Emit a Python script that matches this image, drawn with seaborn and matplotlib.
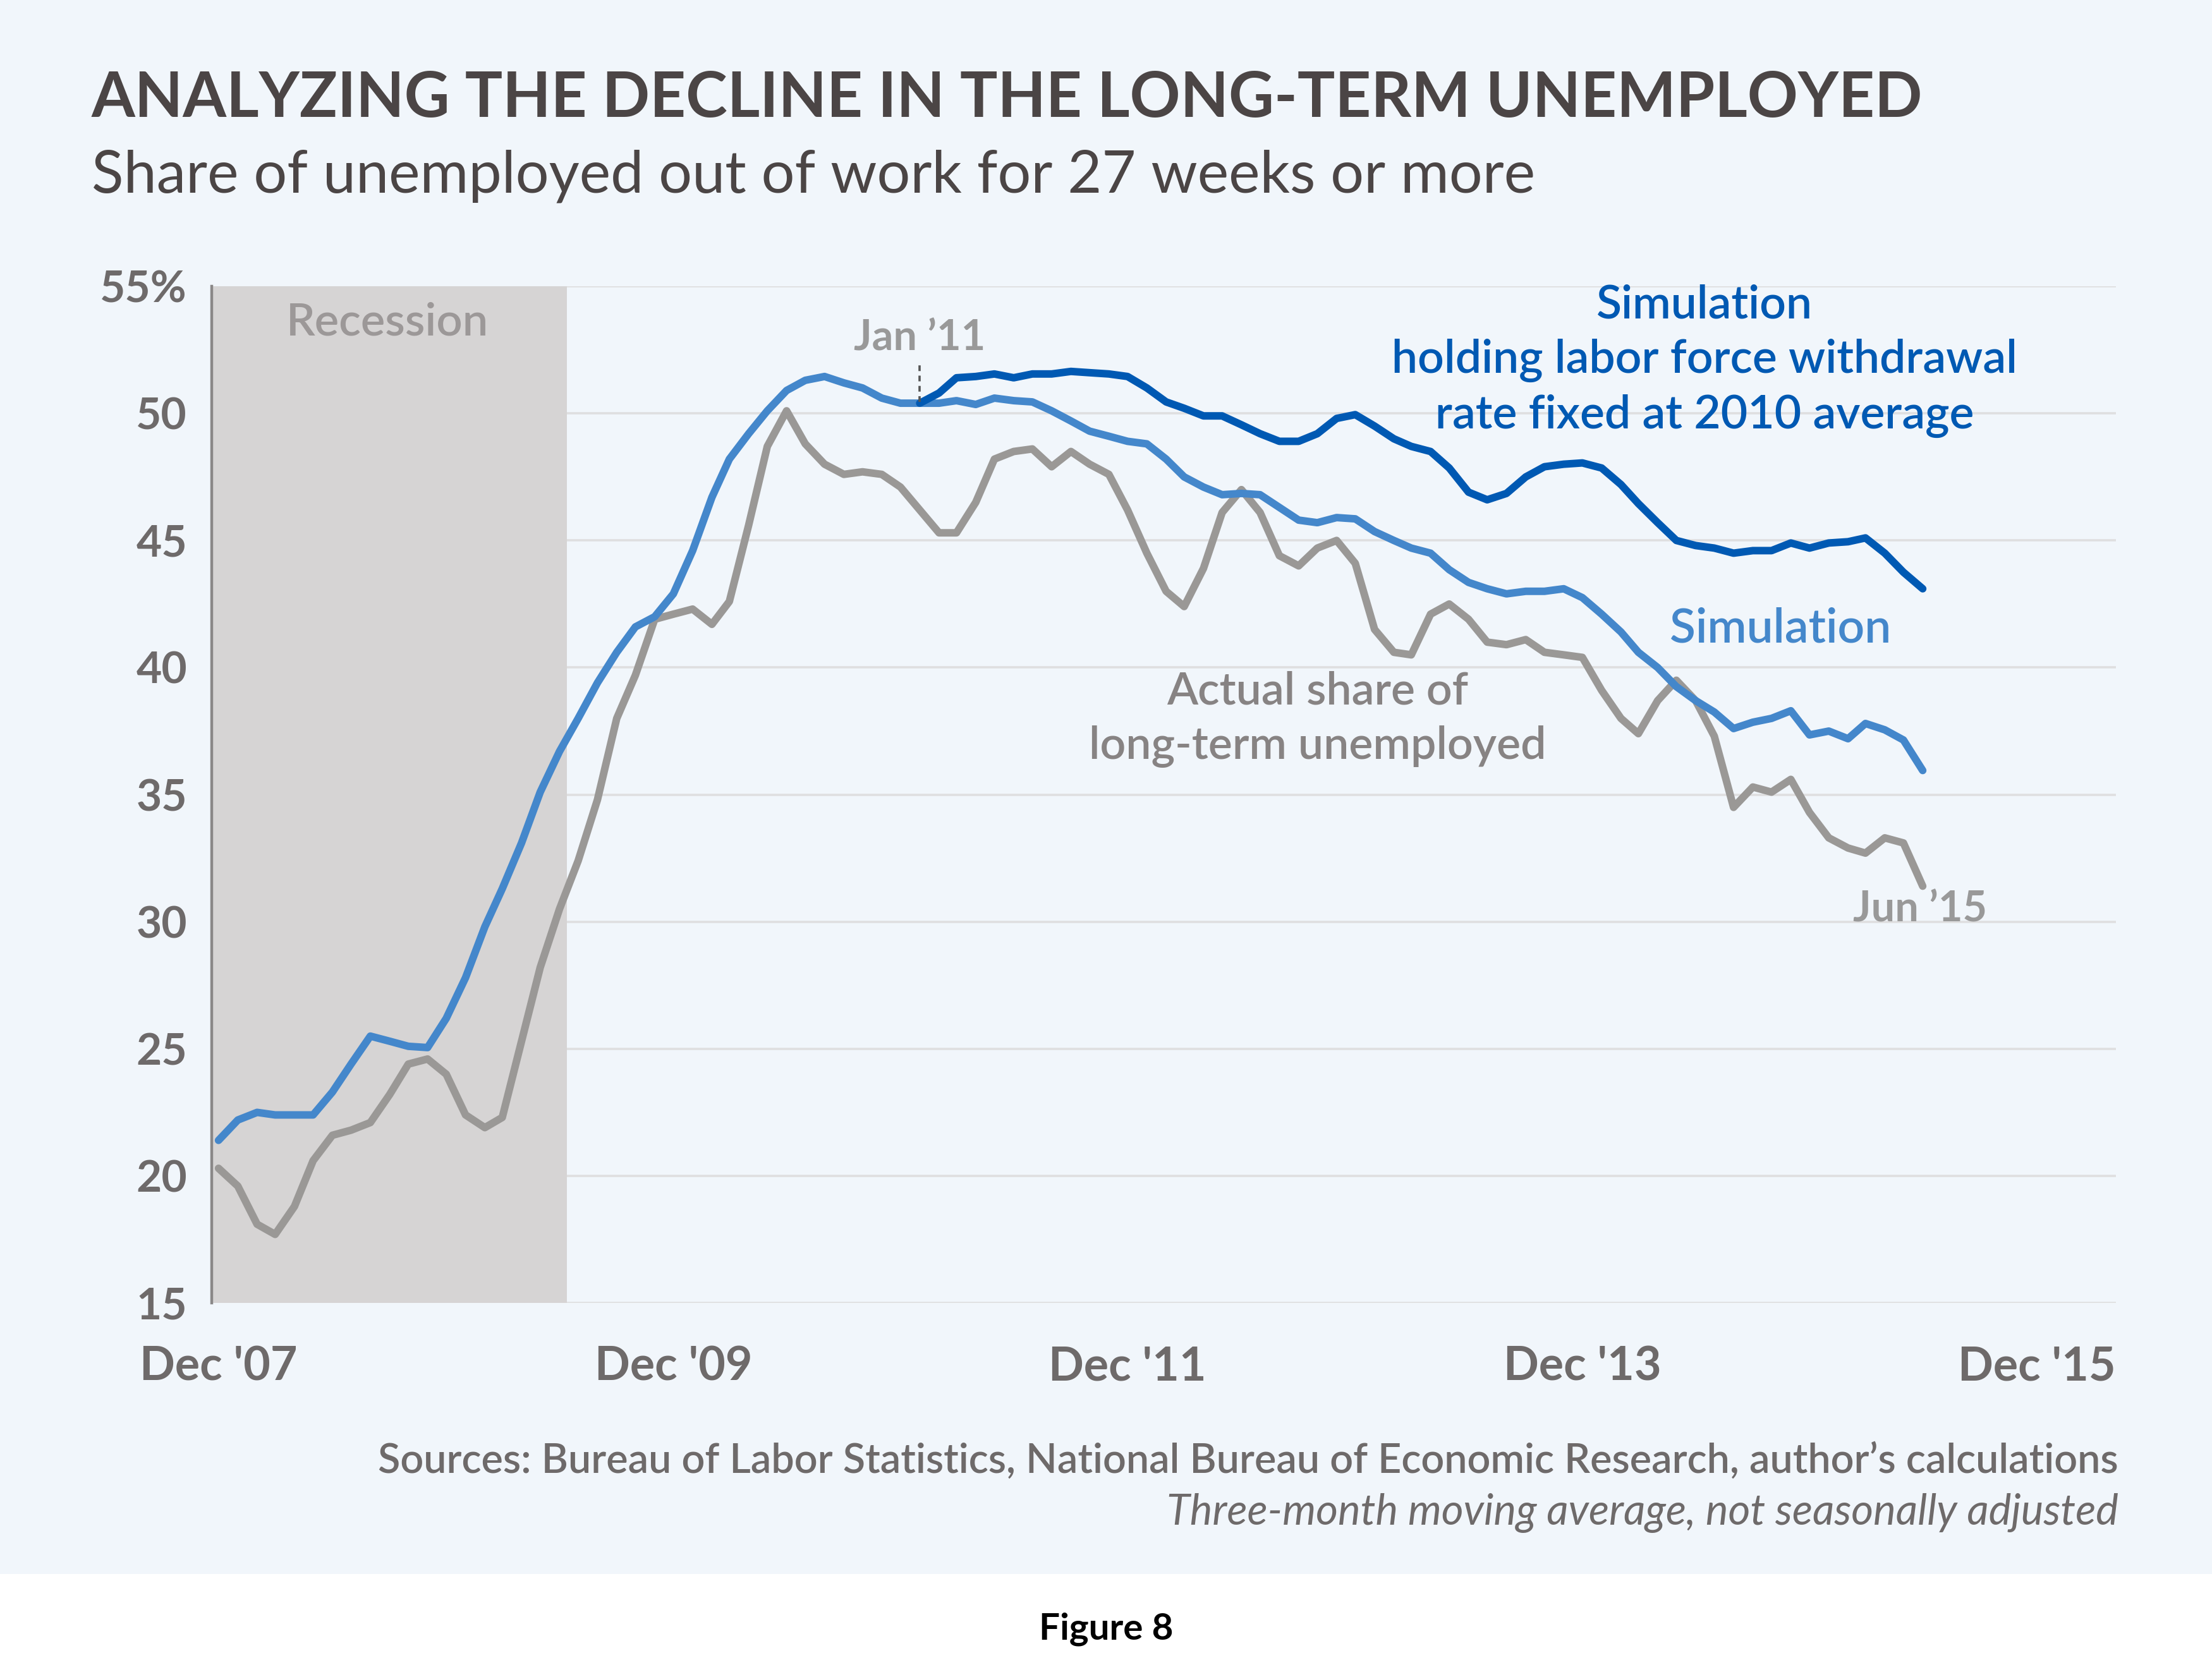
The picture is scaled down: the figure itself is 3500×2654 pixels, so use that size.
import matplotlib
matplotlib.use("Agg")
import matplotlib.pyplot as plt
from matplotlib.patches import Rectangle
import seaborn as sns
import pandas as pd

########## Data ##########

# monthly, Dec 2007 - Jun 2015 (three-month moving average, percent)
dates = pd.date_range("2007-12-01", "2015-06-01", freq="MS")

actual = [20.3, 19.6, 18.1, 17.7, 18.8, 20.6, 21.6, 21.8, 22.1, 23.2,
          24.4, 24.6, 24.0, 22.4, 21.9, 22.3, 25.3, 28.2, 30.5, 32.4,
          34.8, 38.0, 39.7, 41.9, 42.1, 42.3, 41.7, 42.6, 45.6, 48.7,
          50.1, 48.8, 48.0, 47.6, 47.7, 47.6, 47.1, 46.2, 45.3, 45.3,
          46.5, 48.2, 48.5, 48.6, 47.9, 48.5, 48.0, 47.6, 46.2, 44.5,
          43.0, 42.4, 43.9, 46.1, 47.0, 46.1, 44.4, 44.0, 44.7, 45.0,
          44.1, 41.5, 40.6, 40.5, 42.1, 42.5, 41.9, 41.0, 40.9, 41.1,
          40.6, 40.5, 40.4, 39.1, 38.0, 37.4, 38.7, 39.5, 38.7, 37.3,
          34.5, 35.3, 35.1, 35.6, 34.3, 33.3, 32.9, 32.7, 33.3, 33.1,
          31.4]

simulation = [21.4, 22.2, 22.5, 22.4, 22.4, 22.4, 23.3, 24.4, 25.5, 25.3,
              25.1, 25.05, 26.2, 27.8, 29.8, 31.3, 33.1, 35.1, 36.7, 38.0,
              39.4, 40.6, 41.6, 42.0, 42.9, 44.6, 46.7, 48.2, 49.2, 50.1,
              50.9, 51.3, 51.45, 51.2, 51.0, 50.6, 50.4, 50.4, 50.4, 50.5,
              50.35, 50.6, 50.5, 50.45, 50.1, 49.7, 49.3, 49.1, 48.9, 48.8,
              48.2, 47.5, 47.1, 46.8, 46.85, 46.8, 46.3, 45.8, 45.7, 45.9,
              45.85, 45.35, 45.0, 44.7, 44.5, 43.85, 43.35, 43.1, 42.9, 43.0,
              43.0, 43.1, 42.75, 42.1, 41.4, 40.6, 40.0, 39.25, 38.7, 38.25,
              37.6, 37.85, 38.0, 38.3, 37.35, 37.5, 37.2, 37.8, 37.55, 37.15,
              35.95]

# simulation with withdrawal rate fixed, from Jan 2011 on
fixed_dates = dates[37:]
sim_fixed = [50.4, 50.8, 51.4, 51.45, 51.55, 51.4, 51.55, 51.55, 51.65, 51.6,
             51.55, 51.45, 51.0, 50.45, 50.2, 49.9, 49.9, 49.55, 49.2, 48.9,
             48.9, 49.2, 49.8, 49.95, 49.5, 49.0, 48.7, 48.5, 47.85, 46.9,
             46.6, 46.85, 47.5, 47.9, 48.0, 48.05, 47.85, 47.2, 46.45, 45.7,
             45.0, 44.8, 44.7, 44.5, 44.6, 44.6, 44.9, 44.7, 44.9, 44.95,
             45.1, 44.5, 43.75, 43.1]

ytick_values = [15, 20, 25, 30, 35, 40, 45, 50, 55]
ytick_labels = ["15", "20", "25", "30", "35", "40", "45", "50", "55%"]
xtick_dates = pd.to_datetime(["2007-12-01", "2009-12-01", "2011-12-01",
                              "2013-12-01", "2015-12-01"])
xtick_labels = ["Dec '07", "Dec '09", "Dec '11", "Dec '13", "Dec '15"]

########## Colours ##########

bg = "#f1f6fb"
title_col = "#4b4545"
tick_col = "#6e6a6a"
gray = "#9a9896"
blue = "#4487cb"
dark_blue = "#0059b3"

########## Plot ##########

sns.set_theme(style="white")
plt.rcParams["font.family"] = ["Lato", "DejaVu Sans"]

fig = plt.figure(figsize=(17.5, 13.27), dpi=200, facecolor="white")
fig.patches.append(Rectangle((0, 0.0614), 1, 1 - 0.0614, transform=fig.transFigure,
                             facecolor=bg, edgecolor="none", zorder=-10))
ax = fig.add_axes([0.0957, 0.2230, 0.861, 0.6063])
ax.set_facecolor("none")
ax.set_zorder(2)

# recession shading
ax.axvspan(pd.Timestamp("2007-11-15"), pd.Timestamp("2009-06-13"),
           color="#d6d4d4", lw=0, zorder=1)

df_actual = pd.DataFrame({"date": dates, "share": actual})
df_sim = pd.DataFrame({"date": dates, "share": simulation})
df_fixed = pd.DataFrame({"date": fixed_dates, "share": sim_fixed})

line_kw = dict(linewidth=4.3, solid_capstyle="round", zorder=3)
sns.lineplot(data=df_actual, x="date", y="share", color=gray, ax=ax, **line_kw)
sns.lineplot(data=df_sim, x="date", y="share", color=blue, ax=ax, **line_kw)
sns.lineplot(data=df_fixed, x="date", y="share", color=dark_blue, ax=ax, **line_kw)

ax.set_xlim(pd.Timestamp("2007-11-20"), pd.Timestamp("2016-04-07"))
ax.set_ylim(15, 55)
ax.set_yticks(ytick_values)
ax.set_yticklabels(ytick_labels)
ax.set_xticks(xtick_dates)
ax.set_xticklabels(xtick_labels)
ax.set_xlabel("")
ax.set_ylabel("")

ax.set_axisbelow(True)
ax.yaxis.grid(True, color="#dfdfe0", linewidth=1.3, zorder=0.5)
ax.xaxis.grid(False)
for s in ["top", "right", "bottom"]:
    ax.spines[s].set_visible(False)
ax.spines["left"].set_color("#8a8888")
ax.spines["left"].set_linewidth(1.6)
ax.spines["left"].set_zorder(4)

ax.tick_params(axis="y", length=0, pad=14, labelsize=25, labelcolor=tick_col)
ax.tick_params(axis="x", length=0, pad=24, labelsize=26.5, labelcolor=tick_col)
for lab in ax.get_yticklabels() + ax.get_xticklabels():
    lab.set_fontweight("bold")

# annotations
ax.text(pd.Timestamp("2008-08-28"), 53.56, "Recession", ha="center", va="center",
        fontsize=26, color="#9c9898", fontweight="semibold", zorder=5)
ax.text(pd.Timestamp("2011-01-01"), 52.95, "Jan \u201911", ha="center", va="center",
        fontsize=24, color="#999999", fontweight="bold", zorder=5)
ax.plot([pd.Timestamp("2011-01-01")] * 2, [50.45, 51.95], color="#555555",
        lw=1.3, ls=(0, (2.5, 2)), zorder=5)
ax.text(pd.Timestamp("2014-06-15"), 52.06,
        "Simulation\nholding labor force withdrawal\nrate fixed at 2010 average",
        ha="center", va="center", fontsize=26.4, color=dark_blue,
        fontweight="semibold", linespacing=1.36, zorder=5)
ax.text(pd.Timestamp("2014-10-15"), 41.52, "Simulation", ha="center", va="center",
        fontsize=27, color=blue, fontweight="semibold", zorder=5)
ax.text(pd.Timestamp("2012-10-01"), 37.97, "Actual share of\nlong-term unemployed",
        ha="center", va="center", fontsize=25.8, color="#878383",
        fontweight="semibold", linespacing=1.38, zorder=5)
ax.text(pd.Timestamp("2015-05-28"), 30.49, "Jun \u201915", ha="center", va="center",
        fontsize=24, color="#999999", fontweight="bold", zorder=5)

# titles and notes
fig.text(0.0414, 0.941, "ANALYZING THE DECLINE IN THE LONG-TERM UNEMPLOYED",
         ha="left", va="center", fontsize=35.7, fontweight="bold", color=title_col)
fig.text(0.0414, 0.8948, "Share of unemployed out of work for 27 weeks or more",
         ha="left", va="center", fontsize=33.6, color=title_col)
fig.text(0.9577, 0.1289,
         "Sources: Bureau of Labor Statistics, National Bureau of Economic Research, author\u2019s calculations",
         ha="right", va="center", fontsize=23.3, fontweight="semibold", color=tick_col)
fig.text(0.9577, 0.0976, "Three-month moving average, not seasonally adjusted",
         ha="right", va="center", fontsize=24.2, style="italic", color=tick_col)
fig.text(0.5, 0.0286, "Figure 8", ha="center", va="center", fontsize=21,
         fontweight="bold", color="black")

fig.savefig("out.png", dpi=200, facecolor="white")
plt.close(fig)
